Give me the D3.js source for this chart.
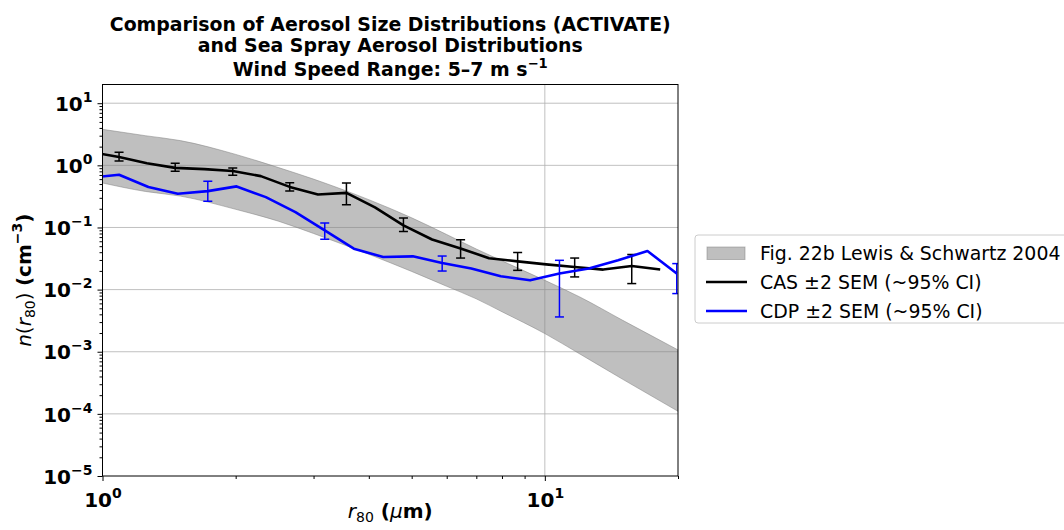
<!DOCTYPE html>
<html>
<head>
<meta charset="utf-8">
<script src="https://cdn.jsdelivr.net/npm/d3@7"></script>
<style>
  body { margin: 0; background: #fff; }
  text { font-family: "DejaVu Sans", sans-serif; }
</style>
</head>
<body>
<div id="chart"></div>
<script>
// Lewis & Schwartz band
const bandX = [1, 1.25, 1.5, 2, 2.5, 3, 4, 5, 6, 7, 8, 10, 12, 15, 20];
const bandUpper = [3.8, 3.0, 2.5, 1.5, 0.92, 0.60, 0.28, 0.143, 0.077, 0.045, 0.029, 0.0141, 0.0076, 0.0032, 0.00107];
const bandLower = [0.52, 0.38, 0.32, 0.196, 0.126, 0.080, 0.037, 0.0196, 0.0113, 0.0071, 0.0044, 0.00196, 0.00092, 0.00036, 0.00011];

// CAS
const casR = [0.94, 1.09, 1.26, 1.46, 1.70, 1.97, 2.28, 2.65, 3.07, 3.56, 4.13, 4.79, 5.56, 6.45, 7.48, 8.68, 10.07, 11.68, 13.55, 15.72, 18.23];
const casN = [1.64, 1.36, 1.08, 0.91, 0.87, 0.81, 0.67, 0.45, 0.34, 0.36, 0.21, 0.108, 0.064, 0.046, 0.032, 0.0285, 0.0255, 0.0231, 0.021, 0.024, 0.021];
const casLo = [null, 1.17, null, 0.80, null, 0.69, null, 0.385, null, 0.233, null, 0.0865, null, 0.0322, null, 0.0204, null, 0.016, null, 0.0125, null];
const casHi = [null, 1.63, null, 1.08, null, 0.91, null, 0.525, null, 0.518, null, 0.1416, null, 0.0637, null, 0.0394, null, 0.0322, null, 0.0366, null];

// CDP
const cdpR = [0.937, 1.09, 1.27, 1.48, 1.73, 2.01, 2.34, 2.73, 3.18, 3.70, 4.31, 5.03, 5.86, 6.82, 7.95, 9.26, 10.79, 12.57, 14.64, 17.06, 19.87];
const cdpN = [0.63, 0.706, 0.447, 0.349, 0.385, 0.458, 0.308, 0.177, 0.0898, 0.0456, 0.0334, 0.0343, 0.0268, 0.0218, 0.0164, 0.0141, 0.0181, 0.0218, 0.0296, 0.0418, 0.0181];
const cdpLo = [null, null, null, null, 0.265, null, null, null, 0.0644, null, null, null, 0.0199, null, null, null, 0.00363, null, null, null, 0.00863];
const cdpHi = [null, null, null, null, 0.557, null, null, null, 0.1178, null, null, null, 0.0347, null, null, null, 0.0296, null, null, null, 0.0262];

const yMajor = [1e-5, 1e-4, 1e-3, 1e-2, 1e-1, 1, 10];
const yExp = ["\u22125", "\u22124", "\u22123", "\u22122", "\u22121", "0", "1"];
const xMajor = [1, 10];
const xExp = ["0", "1"];
const legendLabels = ["Fig. 22b Lewis & Schwartz 2004", "CAS \u00b12 SEM (~95% CI)", "CDP \u00b12 SEM (~95% CI)"];

const W = 1064, H = 530;
const margin = { left: 102.5, right: W - 678, top: 84.5, bottom: H - 476 };
const width = W - margin.left - margin.right,
      height = H - margin.top - margin.bottom;

const svg = d3.select("#chart").append("svg")
    .attr("width", W).attr("height", H);

const g = svg.append("g")
    .attr("transform", "translate(" + margin.left + "," + margin.top + ")");

const x = d3.scaleLog().domain([1, 20]).range([0, width]);
const y = d3.scaleLog().domain([1e-5, 20]).range([height, 0]);

svg.append("defs").append("clipPath").attr("id", "clip")
  .append("rect").attr("width", width).attr("height", height);

// grid
g.append("g").selectAll("line").data(yMajor.slice(1)).enter().append("line")
    .attr("x1", 0).attr("x2", width)
    .attr("y1", d => y(d)).attr("y2", d => y(d))
    .attr("stroke", "#b0b0b0").attr("stroke-width", 0.8);
g.append("g").selectAll("line").data([10]).enter().append("line")
    .attr("y1", 0).attr("y2", height)
    .attr("x1", d => x(d)).attr("x2", d => x(d))
    .attr("stroke", "#b0b0b0").attr("stroke-width", 0.8);

const plot = g.append("g").attr("clip-path", "url(#clip)");

// band
const bandData = bandX.map((r, i) => ({ r: r, lo: bandLower[i], hi: bandUpper[i] }));
plot.append("path")
    .datum(bandData)
    .attr("fill", "#808080").attr("fill-opacity", 0.5)
    .attr("stroke", "#808080").attr("stroke-opacity", 0.5).attr("stroke-width", 1)
    .attr("d", d3.area().curve(d3.curveMonotoneX)
        .x(d => x(d.r)).y0(d => y(d.lo)).y1(d => y(d.hi)));

function serie(rs, ns, los, his, color) {
    const data = rs.map((r, i) => ({ r: r, n: ns[i], lo: los[i], hi: his[i] }));
    plot.append("path")
        .datum(data)
        .attr("fill", "none")
        .attr("stroke", color)
        .attr("stroke-width", 2.6)
        .attr("stroke-linejoin", "round")
        .attr("d", d3.line().x(d => x(d.r)).y(d => y(d.n)));
    const eb = data.filter(d => d.lo != null);
    const e = plot.append("g").attr("stroke", color).attr("stroke-width", 1.5);
    e.selectAll(".v").data(eb).enter().append("line")
        .attr("x1", d => x(d.r)).attr("x2", d => x(d.r))
        .attr("y1", d => y(d.lo)).attr("y2", d => y(d.hi));
    e.selectAll(".cl").data(eb).enter().append("line")
        .attr("x1", d => x(d.r) - 4.5).attr("x2", d => x(d.r) + 4.5)
        .attr("y1", d => y(d.lo)).attr("y2", d => y(d.lo));
    e.selectAll(".ch").data(eb).enter().append("line")
        .attr("x1", d => x(d.r) - 4.5).attr("x2", d => x(d.r) + 4.5)
        .attr("y1", d => y(d.hi)).attr("y2", d => y(d.hi));
}
serie(casR, casN, casLo, casHi, "#000000");
serie(cdpR, cdpN, cdpLo, cdpHi, "#0000ff");

// axes
function yMinor() {
    const t = [];
    for (let e = -5; e <= 1; e++) for (let m = 2; m <= 9; m++) {
        const v = m * Math.pow(10, e);
        if (v < 20) t.push(v);
    }
    return t;
}
function xMinor() {
    const t = [];
    for (let m = 2; m <= 9; m++) t.push(m);
    t.push(20);
    return t;
}

g.append("g").call(d3.axisLeft(y).tickValues(yMinor()).tickSize(3).tickFormat(""))
    .call(a => a.select(".domain").remove());
g.append("g").attr("transform", "translate(0," + height + ")")
    .call(d3.axisBottom(x).tickValues(xMinor()).tickSize(3).tickFormat(""))
    .call(a => a.select(".domain").remove());

const yAx = g.append("g").call(d3.axisLeft(y).tickValues(yMajor).tickSize(5).tickPadding(5).tickFormat(""));
yAx.select(".domain").remove();
yAx.selectAll(".tick text").each(function(d, i) {
    const t = d3.select(this).attr("font-size", 20).attr("font-weight", "bold")
        .attr("fill", "#000").attr("dy", "0.36em");
    t.append("tspan").text("10");
    t.append("tspan").attr("font-size", 14).attr("dy", -9).text(yExp[i]);
});

const xAx = g.append("g").attr("transform", "translate(0," + height + ")")
    .call(d3.axisBottom(x).tickValues(xMajor).tickSize(5).tickPadding(5).tickFormat(""));
xAx.select(".domain").remove();
xAx.selectAll(".tick text").each(function(d, i) {
    const t = d3.select(this).attr("font-size", 20).attr("font-weight", "bold")
        .attr("fill", "#000").attr("dy", "1.05em");
    t.append("tspan").text("10");
    t.append("tspan").attr("font-size", 14).attr("dy", -9).text(xExp[i]);
});
g.selectAll(".tick line").attr("stroke", "#000").attr("stroke-width", 1);

// frame
g.append("rect").attr("width", width).attr("height", height)
    .attr("fill", "none").attr("stroke", "#000").attr("stroke-width", 1);

// title
const cx = margin.left + width / 2;
const title = svg.append("g").attr("font-weight", "bold").attr("font-size", 18.9).attr("text-anchor", "middle");
title.append("text").attr("x", cx).attr("y", 30.5).text("Comparison of Aerosol Size Distributions (ACTIVATE)");
title.append("text").attr("x", cx).attr("y", 51.5).text("and Sea Spray Aerosol Distributions");
const t3 = title.append("text").attr("x", cx).attr("y", 76);
t3.append("tspan").text("Wind Speed Range: 5\u20137 m s");
t3.append("tspan").attr("font-size", 13.2).attr("dy", -8).text("\u22121");

// y label
const yl = svg.append("text").attr("font-size", 20)
    .attr("text-anchor", "middle")
    .attr("transform", "translate(31," + (margin.top + height / 2) + ") rotate(-90)");
yl.append("tspan").attr("font-style", "italic").text("n");
yl.append("tspan").text("(");
yl.append("tspan").attr("font-style", "italic").text("r");
yl.append("tspan").attr("font-size", 14).attr("dy", 4).text("80");
yl.append("tspan").attr("dy", -4).text(") ");
yl.append("tspan").attr("font-weight", "bold").text("(cm");
yl.append("tspan").attr("font-weight", "bold").attr("font-size", 14).attr("dy", -9).text("\u22123");
yl.append("tspan").attr("font-weight", "bold").attr("dy", 9).text(")");

// x label
const xl = svg.append("text").attr("font-size", 20)
    .attr("text-anchor", "middle")
    .attr("x", cx).attr("y", 518);
xl.append("tspan").attr("font-style", "italic").text("r");
xl.append("tspan").attr("font-size", 14).attr("dy", 4).text("80");
xl.append("tspan").attr("dy", -4).attr("font-weight", "bold").text(" (");
xl.append("tspan").attr("font-style", "italic").text("\u03bc");
xl.append("tspan").attr("font-weight", "bold").text("m)");

// legend
const lg = svg.append("g").attr("transform", "translate(695,235)");
lg.append("rect").attr("width", 380).attr("height", 88).attr("rx", 3)
    .attr("fill", "#fff").attr("fill-opacity", 0.8).attr("stroke", "#cccccc").attr("stroke-width", 1);
lg.append("rect").attr("x", 12).attr("y", 12).attr("width", 38).attr("height", 12.5)
    .attr("fill", "#808080").attr("fill-opacity", 0.5)
    .attr("stroke", "#808080").attr("stroke-opacity", 0.5);
const lcol = ["#000000", "#0000ff"];
lcol.forEach((c, i) => {
    lg.append("line").attr("x1", 11).attr("x2", 52)
        .attr("y1", 47 + i * 29).attr("y2", 47 + i * 29)
        .attr("stroke", c).attr("stroke-width", 2.6);
});
lg.selectAll(".lt").data(legendLabels).enter().append("text")
    .attr("x", 65).attr("y", (d, i) => 18 + i * 29).attr("dy", "0.36em")
    .attr("font-size", 18.9).text(d => d);
</script>
</body>
</html>
